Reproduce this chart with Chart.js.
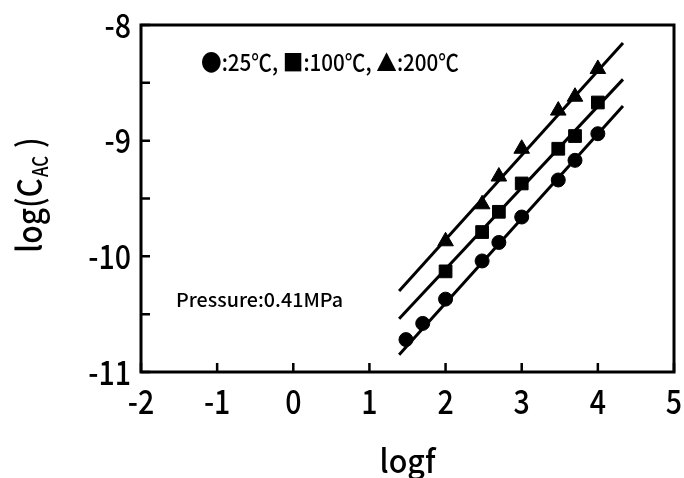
<!DOCTYPE html>
<html>
<head>
<meta charset="utf-8">
<script src="https://cdn.jsdelivr.net/npm/chart.js@4/dist/chart.umd.min.js"></script>
<style>
  html, body { margin: 0; padding: 0; background: #fff; }
  #wrap { width: 684px; height: 478px; }
</style>
</head>
<body>
<div id="wrap"><canvas id="chart" width="684" height="478"></canvas></div>
<script>
// measured points, log f vs log(C_AC)
const logf25 = [1.48, 1.70, 2.00, 2.48, 2.70, 3.00, 3.48, 3.70, 4.00];
const c25 = [-10.72, -10.58, -10.37, -10.04, -9.88, -9.66, -9.34, -9.17, -8.94];
const logf100 = [2.00, 2.48, 2.70, 3.00, 3.48, 3.70, 4.00];
const c100 = [-10.13, -9.79, -9.615, -9.37, -9.07, -8.96, -8.67];
const logf200 = [2.00, 2.48, 2.70, 3.00, 3.48, 3.70, 4.00];
const c200 = [-9.87, -9.55, -9.31, -9.07, -8.74, -8.62, -8.38];

// fitted straight lines (end points)
const fitX = [1.39, 4.33];
const fit25 = [-10.85, -8.70];
const fit100 = [-10.54, -8.47];
const fit200 = [-10.30, -8.155];

const xTicks = [-2, -1, 0, 1, 2, 3, 4, 5];
const yTicks = [-11, -10, -9, -8];
const yMinor = [-10.5, -9.5, -8.5];

const legendText = '●:25℃, ■:100℃, ▲:200℃';
const noteText = 'Pressure:0.41MPa';
const xTitle = 'logf';

const FONT = "'Noto Sans CJK JP', 'Noto Sans', sans-serif";
const WEIGHT = '500 ';
const SQUEEZE = 0.84;

const pts = (xs, ys) => xs.map((x, i) => ({x: x, y: ys[i]}));

function lineSet(ys) {
  return {data: pts(fitX, ys), showLine: true, borderColor: '#000', borderWidth: 3,
          pointRadius: 0, fill: false, order: 2};
}
function markSet(xs, ys, style, r) {
  return {data: pts(xs, ys), showLine: false, pointStyle: style, pointRadius: r,
          backgroundColor: '#000', borderColor: '#000', borderWidth: 1, order: 1};
}

// narrow text, like the gothic face of the original
function narrow(ctx, text, x, y, sx, align) {
  const w = ctx.measureText(text).width * sx;
  let left = x;
  if (align === 'center') left = x - w / 2;
  if (align === 'right') left = x - w;
  ctx.save();
  ctx.translate(left, y);
  ctx.scale(sx, 1);
  ctx.textAlign = 'left';
  ctx.fillText(text, 0, 0);
  ctx.restore();
}
// squeeze text into a given width
function fitWidth(ctx, text, x, y, width) {
  const sx = width / ctx.measureText(text).width;
  narrow(ctx, text, x, y, sx, 'left');
}

const frame = {
  id: 'frame',
  afterDatasetsDraw(chart) {
    const {ctx, chartArea: a, scales: {x, y}} = chart;
    ctx.save();
    ctx.strokeStyle = '#000';
    ctx.lineWidth = 3;
    ctx.strokeRect(a.left, a.top, a.right - a.left, a.bottom - a.top);
    ctx.lineWidth = 2.5;
    ctx.beginPath();
    yTicks.concat(yMinor).forEach(v => {
      const py = y.getPixelForValue(v);
      ctx.moveTo(a.left, py); ctx.lineTo(a.left + 9, py);
    });
    xTicks.forEach(v => {
      const px = x.getPixelForValue(v);
      ctx.moveTo(px, a.bottom); ctx.lineTo(px, a.bottom - 9);
    });
    ctx.stroke();

    ctx.fillStyle = '#000';
    ctx.textBaseline = 'alphabetic';

    // tick labels
    ctx.font = WEIGHT + '34px ' + FONT;
    yTicks.forEach(v => {
      narrow(ctx, String(v), a.left - 10, y.getPixelForValue(v) + 12.5, SQUEEZE, 'right');
    });
    xTicks.forEach(v => {
      narrow(ctx, String(v), x.getPixelForValue(v), 414, SQUEEZE, 'center');
    });

    // legend and note inside the frame
    ctx.font = WEIGHT + '23px ' + FONT;
    fitWidth(ctx, legendText, 201, 71, 258);
    ctx.font = WEIGHT + '19px ' + FONT;
    fitWidth(ctx, noteText, 176, 307, 167);

    // axis titles
    ctx.font = WEIGHT + '32px ' + FONT;
    narrow(ctx, xTitle, (a.left + a.right) / 2, 473, 0.95, 'center');

    ctx.translate(42, 195);
    ctx.rotate(-Math.PI / 2);
    ctx.font = WEIGHT + '34px ' + FONT;
    const p1 = 'log(C', sub = 'AC', p2 = ')';
    const w1 = ctx.measureText(p1).width * 0.88;
    ctx.font = WEIGHT + '21px ' + FONT;
    const ws = ctx.measureText(sub).width * 0.8;
    ctx.font = WEIGHT + '34px ' + FONT;
    const w2 = ctx.measureText(p2).width * 0.88;
    const sx = -(w1 + ws + 9 + w2) / 2;
    narrow(ctx, p1, sx, 0, 0.88, 'left');
    ctx.font = WEIGHT + '21px ' + FONT;
    narrow(ctx, sub, sx + w1 + 1, 6, 0.8, 'left');
    ctx.font = WEIGHT + '34px ' + FONT;
    narrow(ctx, p2, sx + w1 + ws + 9, 0, 0.88, 'left');
    ctx.restore();
  }
};

new Chart(document.getElementById('chart'), {
  type: 'scatter',
  data: {
    datasets: [
      lineSet(fit25), lineSet(fit100), lineSet(fit200),
      markSet(logf25, c25, 'circle', 7),
      markSet(logf100, c100, 'rect', 9),
      markSet(logf200, c200, 'triangle', 9)
    ]
  },
  options: {
    responsive: false,
    animation: false,
    layout: {padding: {top: 25, right: 8, left: 0, bottom: 0}},
    plugins: {legend: {display: false}, tooltip: {enabled: false}},
    scales: {
      x: {
        type: 'linear', min: -2, max: 5,
        afterBuildTicks: s => { s.ticks = xTicks.map(v => ({value: v})); },
        afterFit: s => { s.height = 106; s.paddingLeft = 0; s.paddingRight = 0; },
        grid: {display: false, drawTicks: false},
        border: {display: false},
        ticks: {display: false}
      },
      y: {
        type: 'linear', min: -11, max: -8,
        afterBuildTicks: s => { s.ticks = yTicks.map(v => ({value: v})); },
        afterFit: s => { s.width = 141; s.paddingTop = 0; s.paddingBottom = 0; },
        grid: {display: false, drawTicks: false},
        border: {display: false},
        ticks: {display: false}
      }
    }
  },
  plugins: [frame]
});
</script>
</body>
</html>
